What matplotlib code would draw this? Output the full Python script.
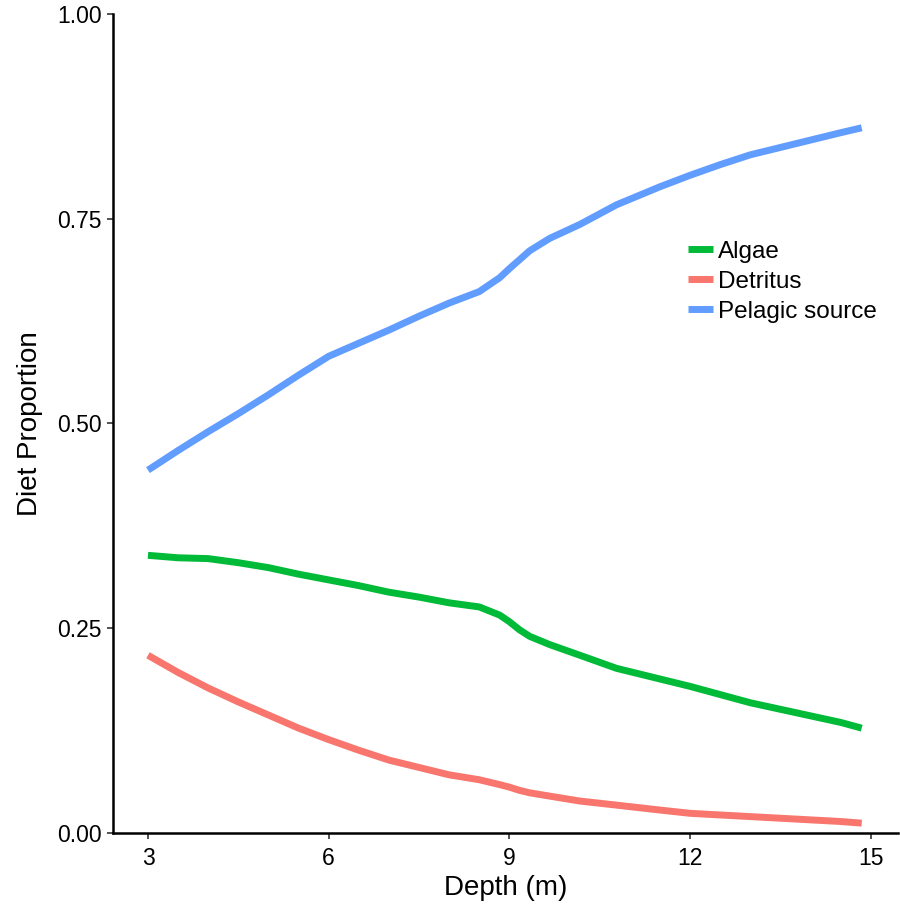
import matplotlib
matplotlib.use("Agg")
import matplotlib.pyplot as plt

plt.rcParams['font.family'] = ['Liberation Sans', 'DejaVu Sans']

depth = [3, 3.5, 4, 4.5, 5, 5.5, 6, 6.5, 7, 7.5, 8, 8.5, 8.84, 9.0, 9.17, 9.34,
         9.67, 10.17, 10.78, 11.5, 12, 12.5, 13, 13.5, 14, 14.5, 14.85]
algae = [0.339, 0.336, 0.335, 0.330, 0.324, 0.316, 0.309, 0.302, 0.294, 0.288,
         0.281, 0.276, 0.266, 0.258, 0.248, 0.240, 0.230, 0.217, 0.201, 0.188,
         0.179, 0.169, 0.159, 0.151, 0.143, 0.135, 0.128]
detritus = [0.217, 0.196, 0.177, 0.160, 0.144, 0.128, 0.114, 0.101, 0.089, 0.080,
            0.071, 0.065, 0.059, 0.056, 0.052, 0.049, 0.045, 0.039, 0.034, 0.028,
            0.024, 0.022, 0.020, 0.018, 0.016, 0.014, 0.012]
pelagic = [0.443, 0.467, 0.490, 0.512, 0.535, 0.559, 0.582, 0.598, 0.614, 0.631,
           0.647, 0.661, 0.678, 0.689, 0.700, 0.711, 0.726, 0.743, 0.767, 0.789,
           0.803, 0.816, 0.828, 0.837, 0.846, 0.855, 0.861]

series = [("Algae", algae, "#00BA38"),
          ("Detritus", detritus, "#F8766D"),
          ("Pelagic source", pelagic, "#619CFF")]

fig = plt.figure(figsize=(9, 9.06), dpi=100)
ax = fig.add_axes([0.1256, 0.0806, 0.872, 0.904])

for name, vals, col in series:
    ax.plot(depth, vals, color=col, lw=5, label=name,
            solid_capstyle="butt", solid_joinstyle="round")

ax.set_xlim(2.42, 15.45)
ax.set_ylim(0, 1.0)
ax.set_xticks([3, 6, 9, 12, 15])
ax.set_yticks([0, 0.25, 0.5, 0.75, 1.0])
ax.set_yticklabels(["0.00", "0.25", "0.50", "0.75", "1.00"])

for s in ["top", "right"]:
    ax.spines[s].set_visible(False)
for s in ["left", "bottom"]:
    ax.spines[s].set_linewidth(1.8)
ax.tick_params(length=4, width=1.2, color="#333333", labelsize=16.5)
ax.tick_params(axis="x", pad=6)
ax.tick_params(axis="y", pad=4)

ax.set_xlabel("Depth (m)", fontsize=20, labelpad=4)
ax.set_ylabel("Diet Proportion", fontsize=20, labelpad=10)

ax.legend(loc="center left", bbox_to_anchor=(0.7325, 0.673), frameon=False,
          fontsize=17.5, handlelength=1.05, handletextpad=0.17, labelspacing=0.33,
          borderaxespad=0, borderpad=0)

fig.savefig("out.png")
